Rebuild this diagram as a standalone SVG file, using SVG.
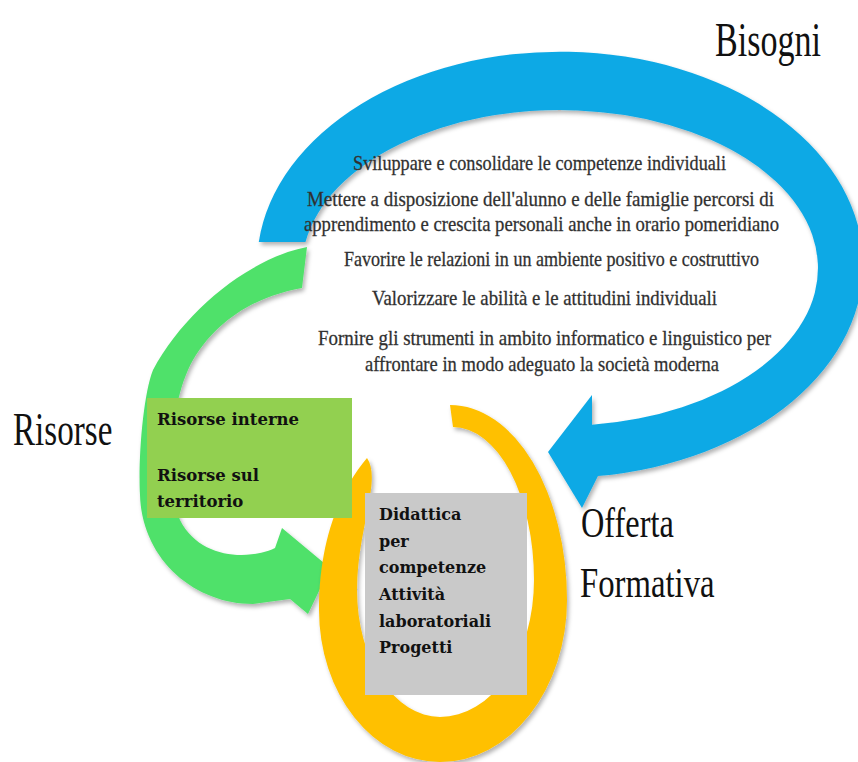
<svg xmlns="http://www.w3.org/2000/svg" width="858" height="762" viewBox="0 0 858 762">
<defs>
<filter id="sh" x="-10%" y="-10%" width="120%" height="120%">
<feDropShadow dx="2" dy="3" stdDeviation="2" flood-color="#000" flood-opacity="0.3"/>
</filter>
<style>
.lbl{font-family:"Liberation Serif","Times New Roman",serif;fill:#111;}
.goal{font-family:"Liberation Serif","Times New Roman",serif;font-size:21px;fill:#2e2e2e;stroke:#3a3a3a;stroke-width:0.3;}
.box{font-family:"DejaVu Serif","Liberation Serif",serif;font-weight:bold;fill:#111;}
</style>
</defs>
<rect width="858" height="762" fill="#fff"/>
<g id="connectors">
<path id="arrow-bisogni" filter="url(#sh)" fill="#10A9E5" d="M258.8,242 A303,213 0 1 1 598,476 L582,508 L548,452 L592,395 L592,424.8 A258,158 0 1 0 305.5,242 Z"/>
<path id="arrow-risorse" filter="url(#sh)" fill="#50E16B" d="M307,247 C250,258 185,310 153,370 C143,395 138,460 140,495 C142,560 195,604 253,604 L290,599 L308,614 L330,568 L282,528 L275,548 C250,560 200,560 180,520 C165,480 170,400 193,360 C218,318 258,296 302,288 Z"/>
<path id="arrow-offerta" filter="url(#sh)" fill="#FFC000" d="M450,405 A117,195 0 0 1 567,600 A127,162 0 0 1 440,762 A121,152 0 0 1 319,610 C319,540 340,490 367,458 C382,480 357,530 357,590 A83,127 0 0 0 440,717 A94,137 0 0 0 534,580 A81,153 0 0 0 453,427 Z"/>
</g>
<g id="bisogni">
<text class="lbl" transform="translate(715,56) scale(0.71,1)" font-size="48">Bisogni</text>
<g id="goals">
<text class="goal" x="353" y="170" textLength="373" lengthAdjust="spacingAndGlyphs">Sviluppare e consolidare le competenze individuali</text>
<text class="goal" x="307" y="206" textLength="467" lengthAdjust="spacingAndGlyphs">Mettere a disposizione dell'alunno  e delle famiglie  percorsi di</text>
<text class="goal" x="304" y="231" textLength="475" lengthAdjust="spacingAndGlyphs">apprendimento e crescita personali anche in orario pomeridiano</text>
<text class="goal" x="344" y="266" textLength="415" lengthAdjust="spacingAndGlyphs">Favorire le relazioni  in un ambiente  positivo e costruttivo</text>
<text class="goal" x="372" y="305" textLength="345" lengthAdjust="spacingAndGlyphs">Valorizzare  le abilità  e le attitudini  individuali</text>
<text class="goal" x="318" y="345" textLength="453" lengthAdjust="spacingAndGlyphs">Fornire gli strumenti  in ambito informatico e linguistico  per</text>
<text class="goal" x="365" y="371" textLength="354" lengthAdjust="spacingAndGlyphs">affrontare in modo adeguato la società moderna</text>
</g>
</g>
<g id="risorse">
<text class="lbl" transform="translate(13,445) scale(0.72,1)" font-size="46">Risorse</text>
<rect x="147" y="398" width="205" height="120" fill="#92D050"/>
<text class="box" font-size="16.5"><tspan x="157" y="425">Risorse interne</tspan><tspan x="157" y="481">Risorse sul</tspan><tspan x="157" y="507">territorio</tspan></text>
</g>
<g id="offerta">
<text class="lbl" transform="translate(581,537) scale(0.77,1)" font-size="42">Offerta</text>
<text class="lbl" transform="translate(580,597) scale(0.78,1)" font-size="42">Formativa</text>
<rect x="365" y="493" width="162" height="202" fill="#C9C9C9"/>
<text class="box" font-size="16"><tspan x="379" y="520">Didattica</tspan><tspan x="379" y="546.5">per</tspan><tspan x="379" y="573">competenze</tspan><tspan x="379" y="600">Attività</tspan><tspan x="379" y="626.5">laboratoriali</tspan><tspan x="379" y="653">Progetti</tspan></text>
</g>
</svg>
